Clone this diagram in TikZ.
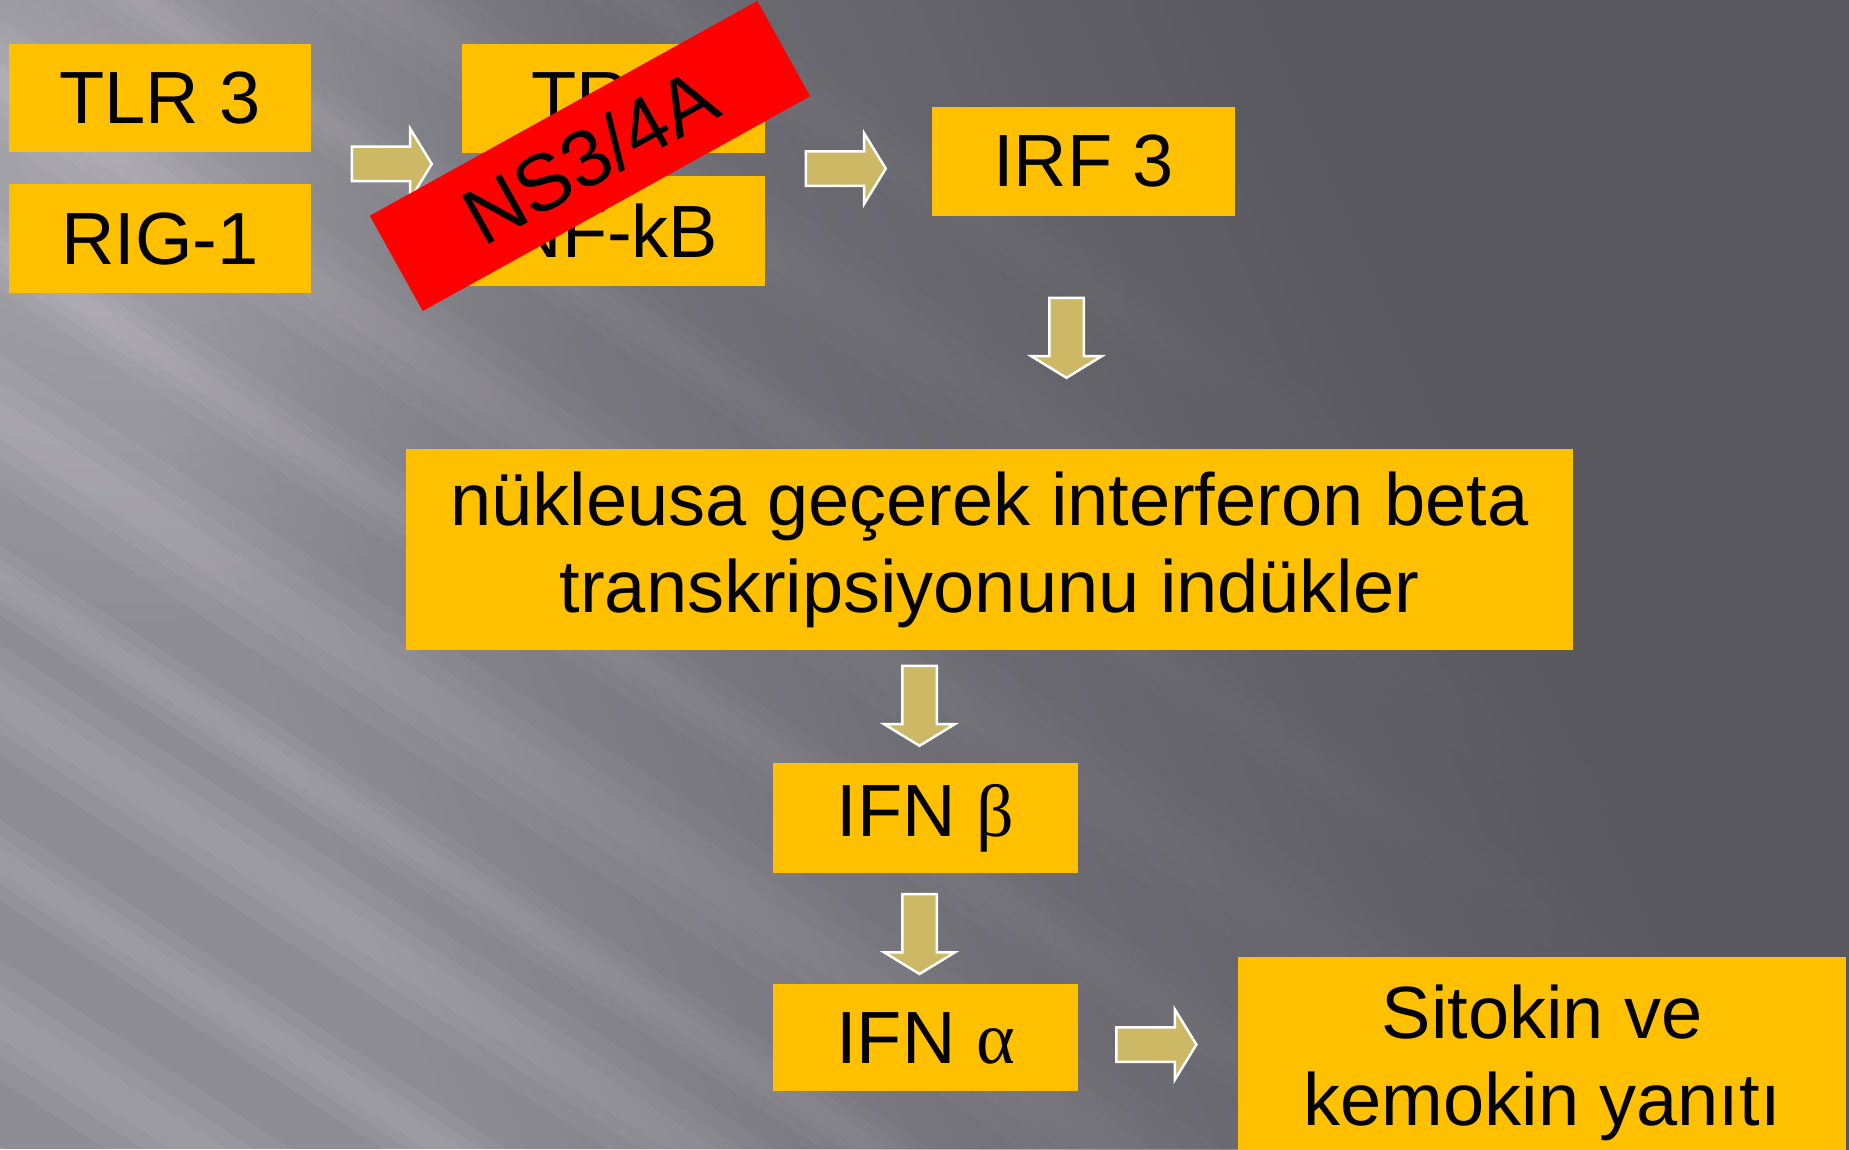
\documentclass[tikz,border=0pt]{standalone}
\usepackage{fontspec}
\setmainfont{Liberation Sans}
\newfontfamily\greekfont{Liberation Serif}
\usetikzlibrary{positioning,calc,shapes.arrows,fadings}

\definecolor{boxyellow}{RGB}{255,192,0}
\definecolor{arrowkhaki}{RGB}{205,184,102}
\definecolor{nsred}{RGB}{255,0,0}
\definecolor{bgmid}{RGB}{142,140,148}
\definecolor{bgdark}{RGB}{90,88,95}

\pgfdeclarehorizontalshading{rampmask}{100bp}{color(0bp)=(black); color(40bp)=(black);
  color(50bp)=(white!60!black); color(60bp)=(white); color(100bp)=(white)}
\tikzfading[name=darkramp, shading=rampmask]
\tikzfading[name=glow, inner color=transparent!20, outer color=transparent!100]

\begin{document}
\begin{tikzpicture}[
    x=1pt, y=-1pt,
    box/.style={fill=boxyellow, inner sep=0pt, align=center, font=\fontsize{74}{87}\selectfont},
    blockarr/.style={single arrow, fill=arrowkhaki, draw=white, line width=2.5pt, inner sep=16pt,
      minimum height=80pt, single arrow head extend=18pt, single arrow tip angle=117,
      single arrow head indent=0pt},
    band/.style={fill=nsred, rotate=29, minimum width=443pt, minimum height=109pt, inner sep=0pt,
      font=\fontsize{80}{90}\selectfont}
  ]
  % background
  \useasboundingbox (0,0) rectangle (1849,1149);
  \clip (0,0) rectangle (1849,1149);
  \fill[bgmid] (0,0) rectangle (1849,1149);
  % soft streaks, falling to the right
  \foreach \c/\w in {-420/40, -250/55, -90/35, 80/60, 250/40, 420/65, 580/35, 700/55, 860/40, 1020/60, 1180/35} {
    \foreach \f in {1,0.6,0.3} {
      \fill[white, opacity=0.05] (0,{\c-\w*\f}) -- (1849,{\c-\w*\f+1200})
        -- (1849,{\c+\w*\f+1200}) -- (0,{\c+\w*\f}) -- cycle;
    }
  }
  \fill[white, opacity=0.3, path fading=glow] (120,120) circle (520);
  \fill[bgdark, path fading=darkramp, fading angle=21] (-650,-800) rectangle (2400,1950);

  % boxes
  \node[box, minimum width=302pt, minimum height=108pt] (tlr) at (160,98) {TLR 3};
  \node[box, minimum width=302pt, minimum height=109pt, below=32pt of tlr] (rig) {RIG-1};
  \node[box, minimum width=303pt, minimum height=109pt] (trif) at (613.5,98) {TRIF};
  \node[box, minimum width=303pt, minimum height=110pt, below=23pt of trif] (nfkb) {NF-kB};
  \node[box, minimum width=303pt, minimum height=109pt] (irf) at (1083.5,161.5) {IRF 3};
  \node[box, minimum width=1167pt, minimum height=201pt] (big) at (989.5,549.5)
    {nükleusa geçerek interferon beta\\transkripsiyonunu indükler};
  \node[box, minimum width=305pt, minimum height=110pt] (ifnb) at (925.5,818) {IFN {\greekfont β}};
  \node[box, minimum width=305pt, minimum height=107pt, below=111pt of ifnb] (ifna) {IFN {\greekfont α}};
  \node[box, minimum width=608pt, minimum height=212pt, anchor=north west] (sito) at (1238,957)
    {Sitokin ve\\kemokin yanıtı};

  % block arrows
  \node[blockarr] (a1) at ($(tlr.south east)!0.5!(nfkb.north west)$) {};
  \node[blockarr] (a2) at ($(nfkb.north east)!0.5!(irf.west)+(-8,0)$) {};
  \node[blockarr, rotate=-90] (a3) at ($(irf.south)!0.5!(irf.south |- big.north)+(-17,0)$) {};
  \node[blockarr, rotate=-90] (a4) at ($(ifnb.north)!0.5!(ifnb.north |- big.south)+(-6,-6)$) {};
  \node[blockarr, rotate=-90] (a5) at ($(ifnb.south)!0.5!(ifna.north)+(-6,0)$) {};
  \node[blockarr] (a6) at ($(ifna.east)!0.5!(sito.west)+(-7,-6)$) {};

  % inhibitor band
  \node[band] (ns) at (590,156) {NS3/4A};
\end{tikzpicture}
\end{document}
